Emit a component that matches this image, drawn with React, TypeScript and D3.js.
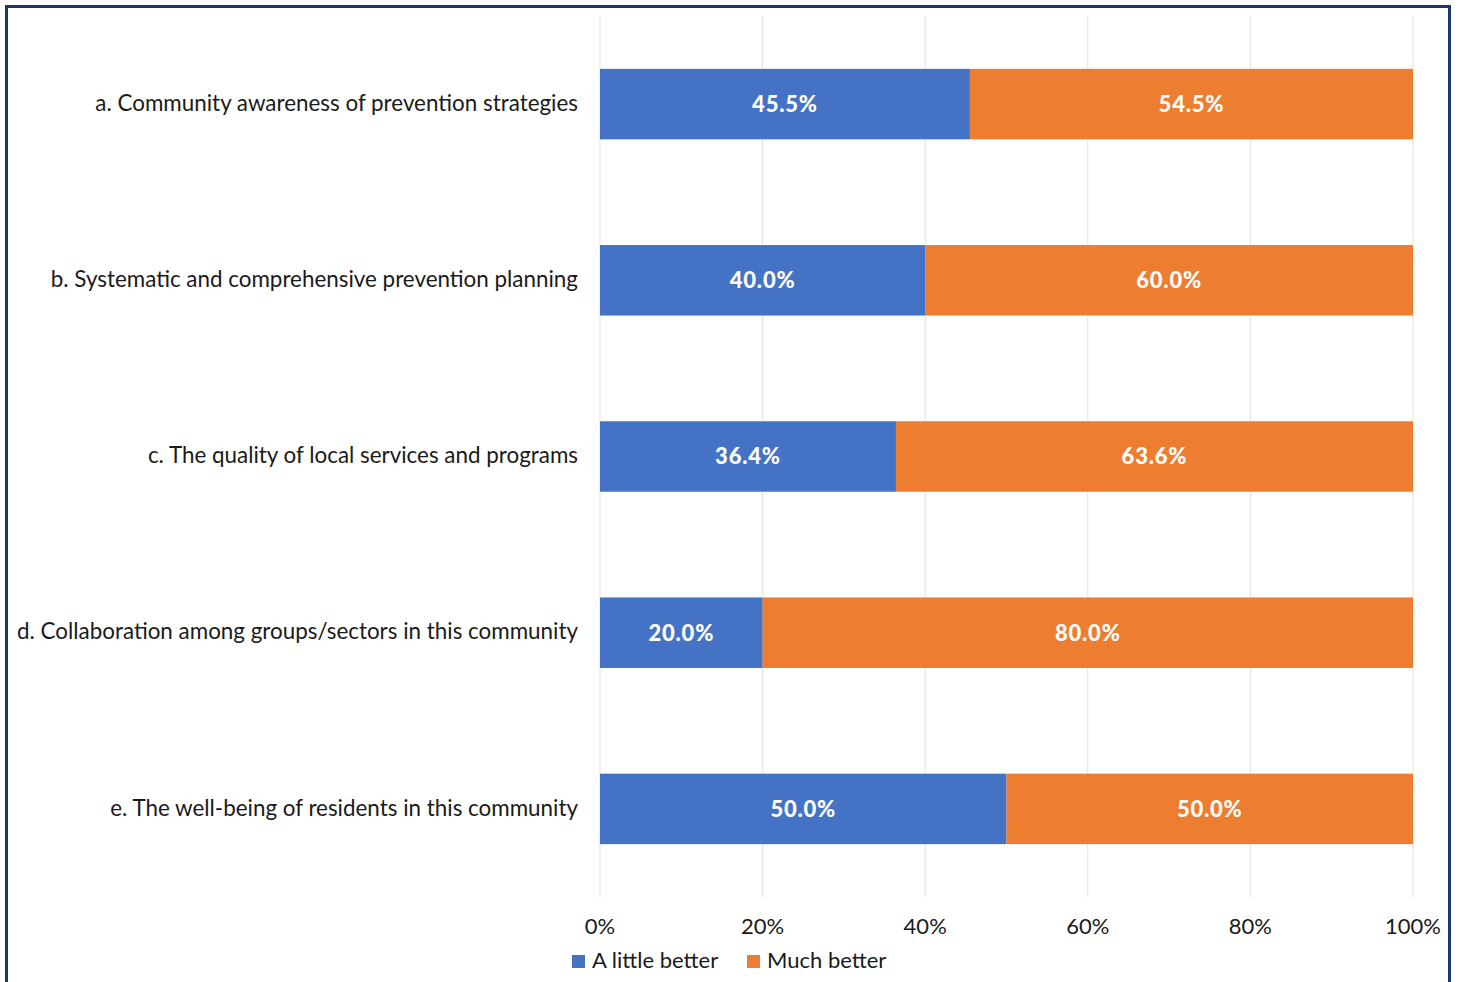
import { scaleLinear, scaleBand } from "d3";

const categories = [
  "a. Community awareness of prevention strategies",
  "b. Systematic and comprehensive prevention planning",
  "c. The quality of local services and programs",
  "d. Collaboration among groups/sectors in this community",
  "e. The well-being of residents in this community",
];
const littleBetter = [45.5, 40.0, 36.4, 20.0, 50.0];
const muchBetter = [54.5, 60.0, 63.6, 80.0, 50.0];
const xTicks = [0, 20, 40, 60, 80, 100];
const seriesNames = ["A little better", "Much better"];
const colors = ["#4472C4", "#ED7D31"];

const W = 1460;
const H = 982;
const font = "Lato, 'Open Sans', sans-serif";

export default function App() {
  const x = scaleLinear().domain([0, 100]).range([600, 1413]);
  const y = scaleBand<string>()
    .domain(categories)
    .range([16, 897])
    .paddingInner(0.6)
    .paddingOuter(0.3);

  const rows = categories.map((c, i) => ({
    cat: c,
    parts: [
      { v0: 0, v1: littleBetter[i], s: 0 },
      { v0: littleBetter[i], v1: littleBetter[i] + muchBetter[i], s: 1 },
    ],
  }));

  return (
    <svg
      width={W}
      height={H}
      style={{ position: "absolute", left: 0, top: 0, background: "#fff" }}
    >
      {/* frame */}
      <path
        d={`M6.5,${H + 5} V6.5 H1449.5 V${H + 5}`}
        fill="none"
        stroke="#1F356F"
        strokeWidth={3}
      />

      {/* grid */}
      {xTicks.map((t) => (
        <line
          key={t}
          x1={x(t)}
          x2={x(t)}
          y1={16}
          y2={897}
          stroke="#e1e1e1"
          strokeWidth={1}
        />
      ))}

      {/* bars */}
      {rows.map((r) => (
        <g key={r.cat}>
          {r.parts.map((p) => (
            <g key={p.s}>
              <rect
                x={x(p.v0)}
                y={y(r.cat)}
                width={x(p.v1) - x(p.v0)}
                height={y.bandwidth()}
                fill={colors[p.s]}
              />
              <text
                x={(x(p.v0) + x(p.v1)) / 2}
                y={(y(r.cat) ?? 0) + y.bandwidth() / 2}
                dy="0.36em"
                textAnchor="middle"
                fill="#fff"
                fontFamily={font}
                fontWeight={900}
                fontSize={22}
                letterSpacing={0.8}
              >
                {(p.v1 - p.v0).toFixed(1)}%
              </text>
            </g>
          ))}
          <text
            x={578}
            y={(y(r.cat) ?? 0) + y.bandwidth() / 2}
            dy="0.3em"
            textAnchor="end"
            fill="#1a1a1a"
            fontFamily={font}
            fontSize={22.4}
          >
            {r.cat}
          </text>
        </g>
      ))}

      {/* x axis labels */}
      {xTicks.map((t) => (
        <text
          key={t}
          x={x(t)}
          y={934}
          textAnchor="middle"
          fill="#1a1a1a"
          fontFamily={font}
          fontSize={22}
        >
          {t}%
        </text>
      ))}

      {/* legend */}
      {seriesNames.map((s, i) => {
        const lx = i === 0 ? 572 : 747;
        return (
          <g key={s}>
            <rect x={lx} y={955} width={13} height={13} fill={colors[i]} />
            <text
              x={lx + 20}
              y={968}
              fill="#1a1a1a"
              fontFamily={font}
              fontSize={22}
            >
              {s}
            </text>
          </g>
        );
      })}
    </svg>
  );
}
